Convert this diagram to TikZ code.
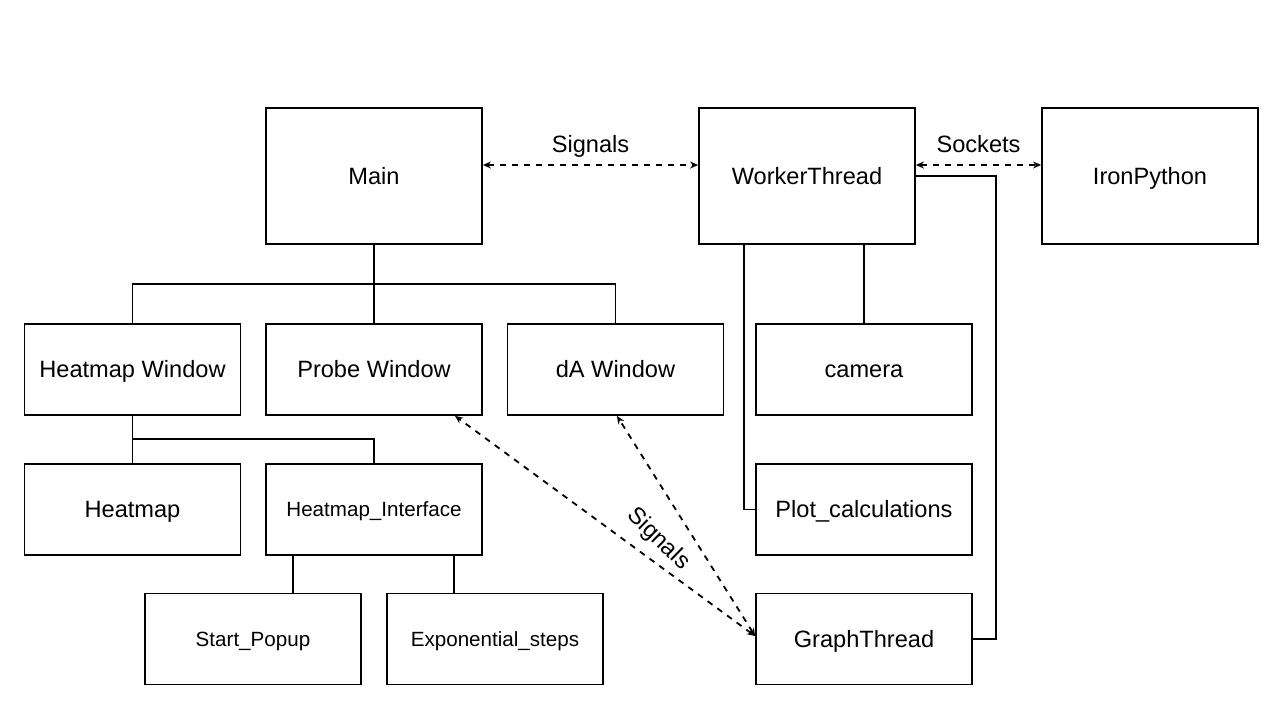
\documentclass[tikz,border=0pt]{standalone}
\usepackage{fontspec}
\setmainfont{Liberation Sans}
\usetikzlibrary{arrows.meta}

\begin{document}
\begin{tikzpicture}[x=0.5pt, y=-0.5pt,
    box/.style={draw, line width=0.9pt, minimum width=108pt, minimum height=45.5pt, inner sep=0pt, text height=10.6pt, text depth=2.4pt, font=\fontsize{11.8}{14}\selectfont},
    bigbox/.style={box, minimum height=68pt},
    smallbox/.style={box, text height=9.5pt, text depth=2.1pt, font=\fontsize{10.3}{12}\selectfont},
    link/.style={line width=0.9pt},
    sig/.style={line width=0.9pt, dashed, {Stealth[length=4pt,width=3.5pt]}-{Stealth[length=4pt,width=3.5pt]}},
    lbl/.style={inner sep=0pt, text height=8.4pt, text depth=2.4pt, font=\fontsize{11.8}{14}\selectfont}]
    \useasboundingbox (0,0) rectangle (1280,720);
    % top row
    \node[bigbox] (main) at (374,176) {Main};
    \node[bigbox] (worker) at (807,176) {WorkerThread};
    \node[bigbox] (iron) at (1150,176) {IronPython};
    % windows
    \node[box] (heatwin) at (132.5,369.5) {Heatmap Window};
    \node[box] (probe) at (374,369.5) {Probe Window};
    \node[box] (dawin) at (615.5,369.5) {dA Window};
    \node[box] (camera) at (864,369.5) {camera};
    % second level
    \node[box] (heatmap) at (132.5,509.5) {Heatmap};
    \node[smallbox] (heatif) at (374,509.5) {Heatmap\_Interface};
    \node[box] (plotcalc) at (864,509.5) {Plot\_calculations};
    % bottom row
    \node[smallbox] (popup) at (253,639) {Start\_Popup};
    \node[smallbox] (expsteps) at (495,639) {Exponential\_steps};
    \node[box] (graph) at (864,639) {GraphThread};
    \coordinate (split1) at (374,284);
    \coordinate (split2) at (132.5,439);
    % tree from Main
    \draw[link] (main.south) -- (split1);
    \draw[link] (split1) -| (heatwin.north);
    \draw[link] (split1) -- (probe.north);
    \draw[link] (split1) -| (dawin.north);
    % tree from Heatmap Window
    \draw[link] (heatwin.south) -- (heatmap.north);
    \draw[link] (split2) -| (heatif.north);
    \draw[link] (heatif.south -| 293,0) -- (popup.north -| 293,0);
    \draw[link] (heatif.south -| 454,0) -- (expsteps.north -| 454,0);
    % WorkerThread children
    \draw[link] (worker.south -| camera.north) -- (camera.north);
    \draw[link] (worker.south -| 744,0) |- (plotcalc.west);
    \draw[link] (worker.east) -- (996,176) |- (graph.east);
    % signals
    \draw[sig] (main.east |- 0,165) -- node[lbl, above=3.4pt] {Signals} (worker.west |- 0,165);
    \draw[sig] (worker.east |- 0,165) -- node[lbl, above=3.4pt] {Sockets} (iron.west |- 0,165);
    \draw[sig] (graph.west |- 0,636) -- (probe.south -| 455,0);
    \draw[sig] (graph.west |- 0,636) -- (dawin.south -| 617,0);
    \node[lbl, rotate=-44] (siglbl) at (658,539) {Signals};
\end{tikzpicture}
\end{document}
